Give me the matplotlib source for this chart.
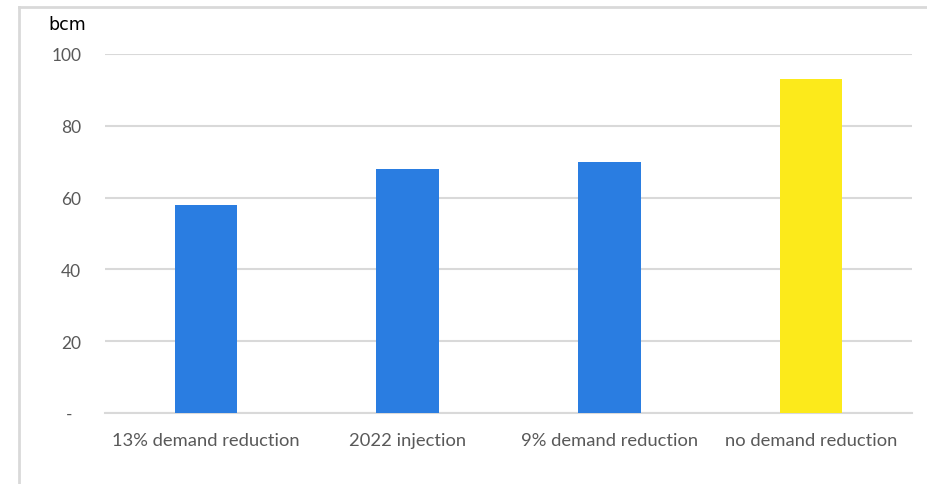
import matplotlib
matplotlib.use("Agg")
import matplotlib.pyplot as plt
from matplotlib.lines import Line2D

categories = ["13% demand reduction", "2022 injection", "9% demand reduction", "no demand reduction"]
values = [58, 68, 70, 93]
colors = ["#2A7DE1", "#2A7DE1", "#2A7DE1", "#FCEA1B"]
yticks = [0, 20, 40, 60, 80, 100]
ytick_labels = ["-  ", "20", "40", "60", "80", "100"]

W, H = 927, 485
fig = plt.figure(figsize=(W / 100, H / 100), dpi=100)
fig.patch.set_facecolor("white")

# outer frame (top and left lines)
fig.add_artist(Line2D([18.5 / W, 18.5 / W], [0, 1 - 8 / H], transform=fig.transFigure,
                      color="#D9D9D9", lw=2))
fig.add_artist(Line2D([18.5 / W, 1], [1 - 8 / H, 1 - 8 / H], transform=fig.transFigure,
                      color="#D9D9D9", lw=2))

left, right, top, bottom = 105, 912, 55, 414
ax = fig.add_axes([left / W, 1 - bottom / H, (right - left) / W, (bottom - top) / H])
x = list(range(len(categories)))
ax.bar(x, values, width=0.31, color=colors, zorder=3)
ax.set_xlim(-0.5, len(categories) - 0.5)
ax.set_ylim(0, 100)
ax.set_yticks(yticks)
ax.set_yticklabels(ytick_labels)
ax.set_xticks(x)
ax.set_xticklabels(categories)
for s in ["top", "right", "left"]:
    ax.spines[s].set_visible(False)
ax.spines["bottom"].set_color("#D9D9D9")
ax.spines["bottom"].set_linewidth(1.5)
ax.grid(axis="y", color="#D9D9D9", lw=1.5, zorder=0)
ax.tick_params(axis="both", length=0, colors="#595959")
ax.tick_params(axis="y", pad=17, labelsize=12.5)
ax.tick_params(axis="x", pad=14, labelsize=13.2)
for lab in ax.get_xticklabels() + ax.get_yticklabels():
    lab.set_fontfamily("Lato")
    lab.set_color("#595959")

fig.text(48 / W, 1 - 25 / H, "bcm", fontsize=12.5, family="DejaVu Sans", color="black",
         va="center", ha="left")

fig.savefig("out.png", dpi=100)
